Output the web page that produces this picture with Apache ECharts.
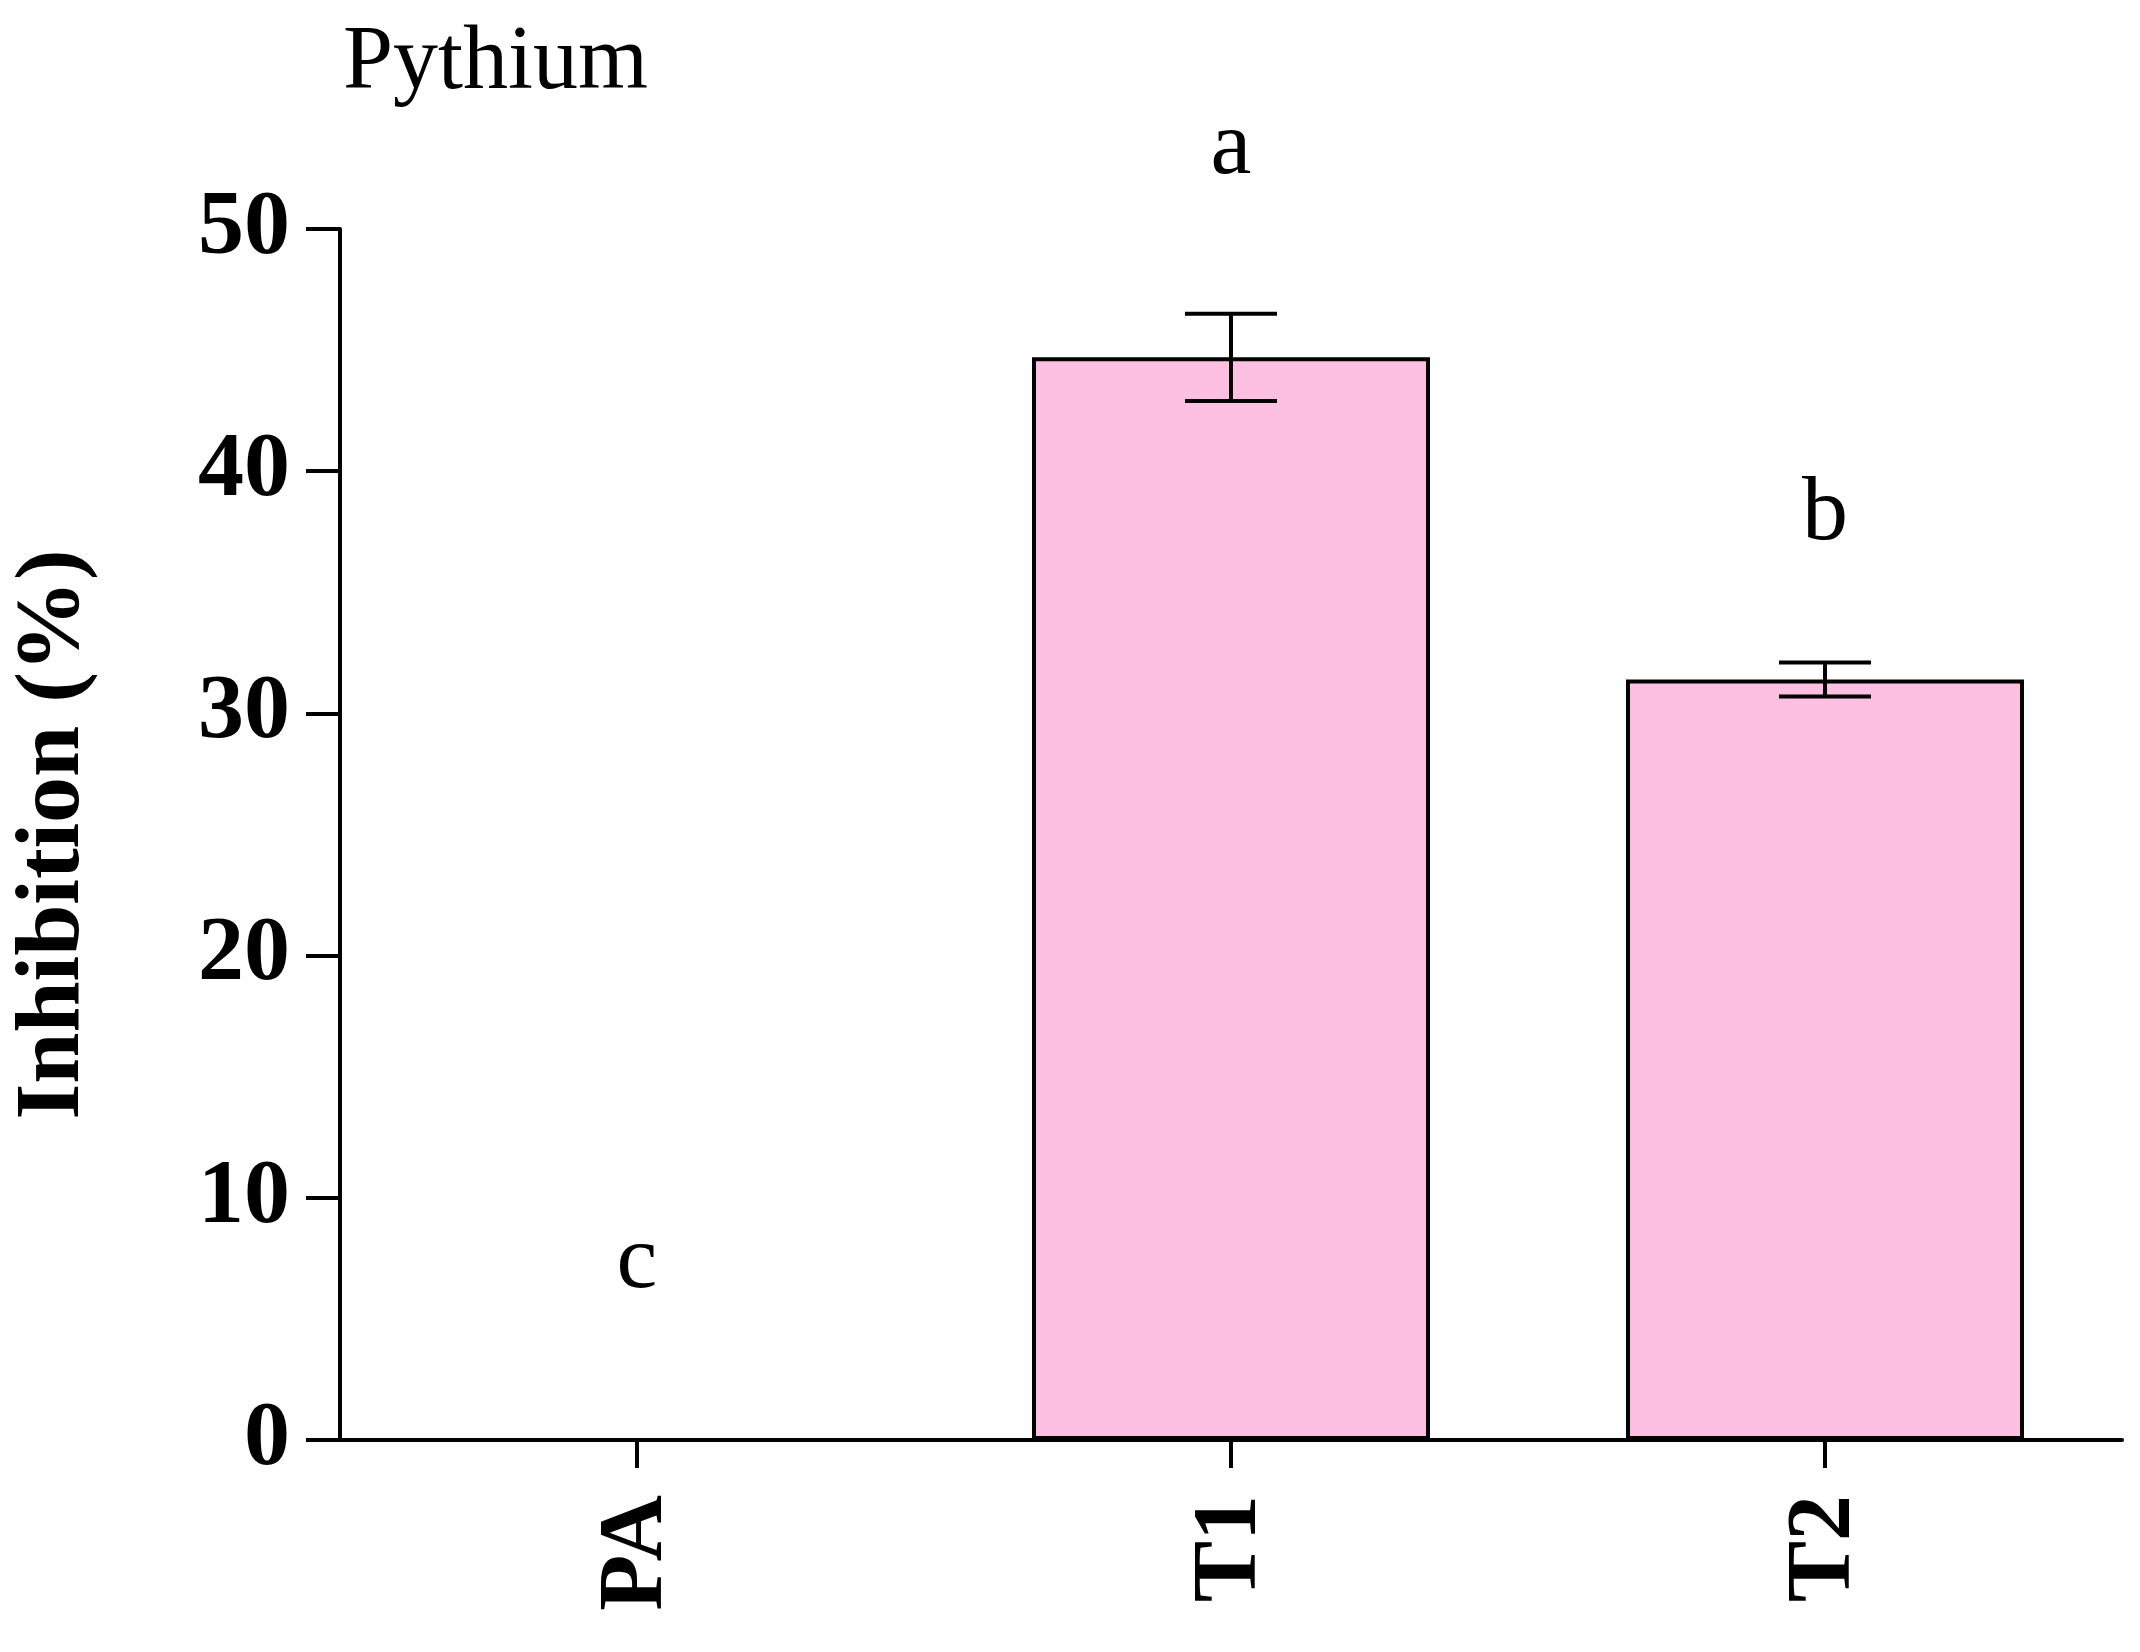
<!DOCTYPE html>
<html>
<head>
<meta charset="utf-8">
<script src="https://cdn.jsdelivr.net/npm/echarts@6/dist/echarts.min.js"></script>
<style>html,body{margin:0;padding:0;background:#fff}#main{width:2140px;height:1652px}</style>
</head>
<body>
<div id="main"></div>
<script>
// data
var categories = ['PA', 'T1', 'T2'];
var inhibition = [0, 44.7, 31.4];
var errors = [0, 1.8, 0.7];
var letters = ['c', 'a', 'b'];
var letterPos = [7.3, 53.3, 38.2];
var yTicks = [0, 10, 20, 30, 40, 50];

var font = 'Liberation Serif';
var myChart = echarts.init(document.getElementById('main'));

var errData = [];
var letterData = [];
for (var i = 0; i < categories.length; i++) {
    errData.push([i, inhibition[i] - errors[i], inhibition[i] + errors[i], errors[i]]);
    letterData.push([i, letterPos[i], letters[i]]);
}

myChart.setOption({
    animation: false,
    title: {
        text: 'Pythium', left: 338, top: 14,
        textStyle: {fontFamily: font, fontSize: 90, fontWeight: 'normal', color: '#000'}
    },
    grid: {left: 334, right: 18, top: 229, bottom: 212},
    xAxis: {
        type: 'category',
        data: categories,
        axisLine: {lineStyle: {color: '#000', width: 4}},
        axisTick: {show: true, alignWithLabel: true, interval: 0, length: 28, lineStyle: {color: '#000', width: 4}},
        axisLabel: {rotate: 90, margin: 55, fontFamily: font, fontSize: 92, fontWeight: 'bold', color: '#000'}
    },
    yAxis: {
        type: 'value', min: 0, max: 50, interval: 10,
        name: 'Inhibition (%)', nameLocation: 'middle', nameGap: 240, nameRotate: 90,
        nameTextStyle: {fontFamily: font, fontSize: 92, fontWeight: 'bold', color: '#000'},
        splitLine: {show: false},
        axisLine: {show: true, lineStyle: {color: '#000', width: 4}},
        axisTick: {show: true, length: 34, lineStyle: {color: '#000', width: 4}},
        axisLabel: {margin: 50, fontFamily: font, fontSize: 92, fontWeight: 'bold', color: '#000',
            formatter: function (v) { return yTicks.indexOf(v) >= 0 ? v : ''; }}
    },
    series: [
        {
            type: 'bar', data: inhibition, barWidth: '67%',
            itemStyle: {color: '#FDBFE2', borderColor: '#000', borderWidth: 4}
        },
        {
            type: 'custom', data: errData, z: 5,
            encode: {x: 0, y: [1, 2]},
            renderItem: function (params, api) {
                if (api.value(3) <= 0) return null;
                var lo = api.coord([api.value(0), api.value(1)]);
                var hi = api.coord([api.value(0), api.value(2)]);
                var w = 46;
                var st = {stroke: '#000', lineWidth: 4};
                return {type: 'group', children: [
                    {type: 'line', shape: {x1: lo[0], y1: lo[1], x2: hi[0], y2: hi[1]}, style: st},
                    {type: 'line', shape: {x1: lo[0] - w, y1: lo[1], x2: lo[0] + w, y2: lo[1]}, style: st},
                    {type: 'line', shape: {x1: hi[0] - w, y1: hi[1], x2: hi[0] + w, y2: hi[1]}, style: st}
                ]};
            }
        },
        {
            type: 'custom', data: letterData, z: 6, silent: true,
            encode: {x: 0, y: 1},
            renderItem: function (params, api) {
                var p = api.coord([api.value(0), api.value(1)]);
                return {type: 'text', x: p[0], y: p[1], style: {
                    text: letters[params.dataIndex], fontFamily: font, fontSize: 92, fill: '#000',
                    align: 'center', verticalAlign: 'middle'}};
            }
        }
    ]
});
</script>
</body>
</html>
